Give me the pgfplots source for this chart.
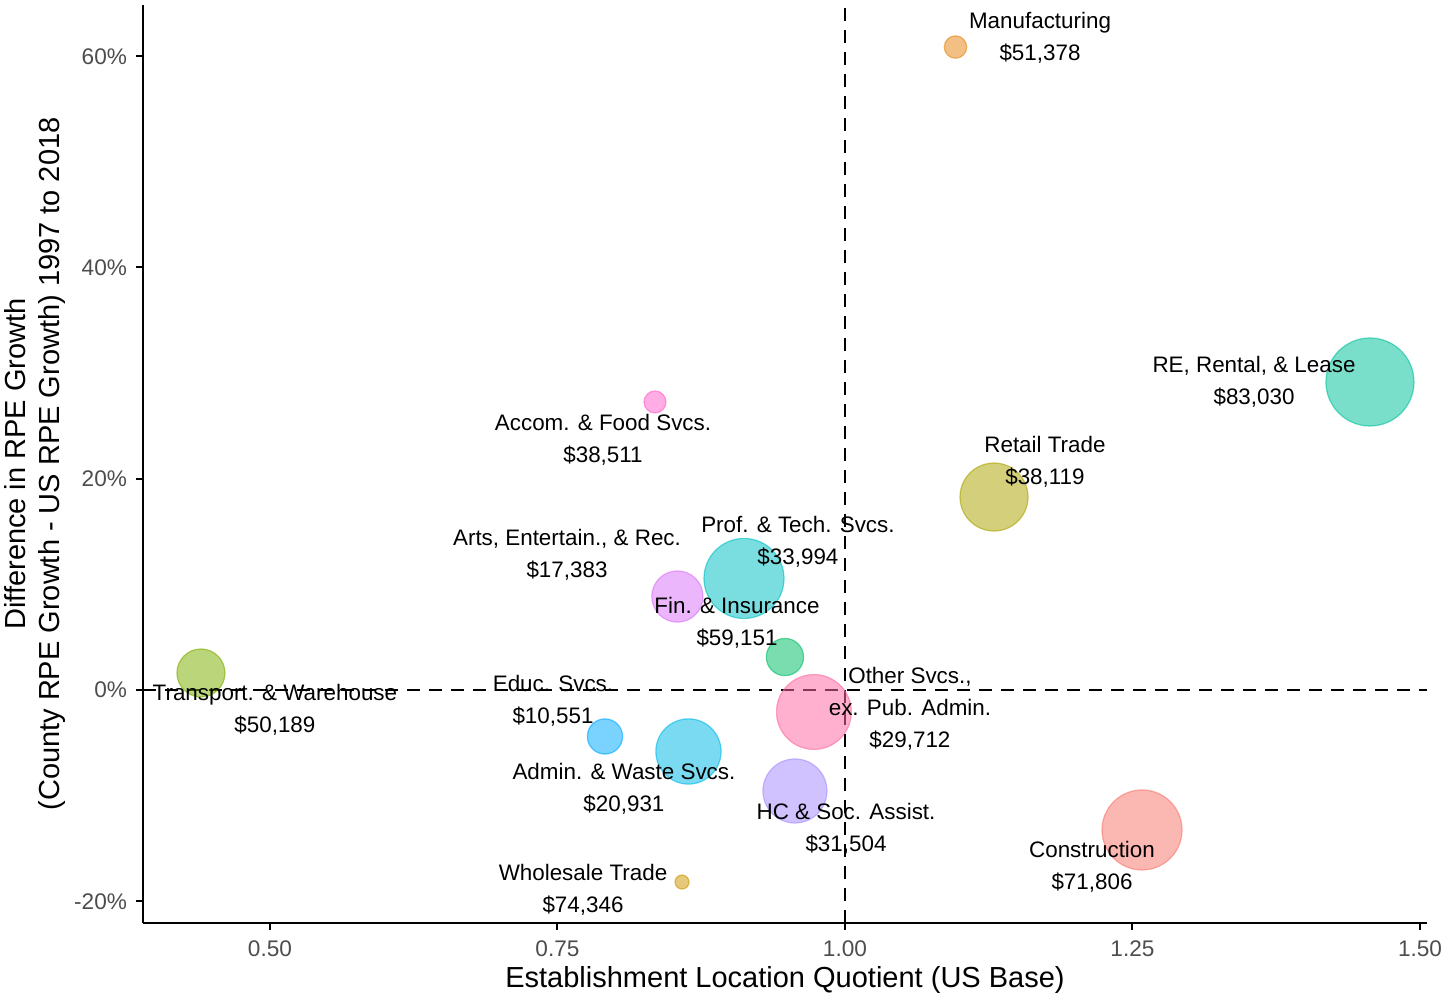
\documentclass[border=0pt]{standalone}
\usepackage{pgfplots}
\pgfplotsset{compat=1.18}
\usepackage{fontspec}
\setmainfont{Liberation Sans}

% ggplot-like hue colours
\definecolor{cCon}{HTML}{F8766D}
\definecolor{cMan}{HTML}{E68613}
\definecolor{cWho}{HTML}{CD9600}
\definecolor{cRet}{HTML}{ABA300}
\definecolor{cTra}{HTML}{7CAE00}
\definecolor{cFin}{HTML}{00BE67}
\definecolor{cRE}{HTML}{00C19A}
\definecolor{cPro}{HTML}{00BFC4}
\definecolor{cAdm}{HTML}{00B8E7}
\definecolor{cEdu}{HTML}{00A9FF}
\definecolor{cHC}{HTML}{A58AFF}
\definecolor{cArt}{HTML}{D973F8}
\definecolor{cAcc}{HTML}{FF61CC}
\definecolor{cOth}{HTML}{FF68A1}
\definecolor{tickgray}{HTML}{4D4D4D}

\begin{document}
\begin{tikzpicture}[
    bub/.style 2 args={only marks, mark=*, mark size=#2, color=#1,
        mark options={fill opacity=0.52, draw opacity=0.6, line width=0.6pt}},
    lab/.style={anchor=center, align=center, font=\fontsize{11.2}{16}\selectfont, inner sep=0pt},
]
\begin{axis}[
    scale only axis,
    width=642pt, height=459pt,
    xmin=0.3896, xmax=1.5061,
    ymin=-22.06, ymax=64.85,
    axis lines=left,
    axis line style={-, line width=1pt, black},
    clip=false,
    xtick={0.5,0.75,1,1.25,1.5},
    xticklabels={0.50,0.75,1.00,1.25,1.50},
    ytick={-20,0,20,40,60},
    yticklabels={-20\%,0\%,20\%,40\%,60\%},
    tick align=outside,
    major tick length=3.5pt,
    tick style={line width=1pt, black},
    ticklabel style={font=\fontsize{11.3}{13}\selectfont, text=tickgray},
    xticklabel style={yshift=-2pt},
    yticklabel style={xshift=-1pt},
    xlabel={Establishment Location Quotient (US Base)},
    ylabel={Difference in RPE Growth\\(County RPE Growth - US RPE Growth) 1997 to 2018},
    every axis x label/.style={at={(axis description cs:0.5,0)}, anchor=center,
        yshift=-28.5pt, font=\fontsize{14.5}{17}\selectfont},
    every axis y label/.style={at={(axis description cs:0,0.5)}, anchor=center,
        rotate=90, align=center, yshift=54pt, font=\fontsize{14.5}{17}\selectfont},
]

% reference lines
\addplot[black, line width=1.1pt, dash pattern=on 6.5pt off 4.5pt] coordinates {(0.3896,0) (1.5061,0)};
\addplot[black, line width=1.1pt, dash pattern=on 6.5pt off 4.5pt] coordinates {(1,-22.06) (1,64.85)};

% bubbles: (location quotient, RPE growth difference), radius
\addplot[bub={cCon}{20pt}]   coordinates {(1.2583,-13.25)};
\addplot[bub={cMan}{5.6pt}]  coordinates {(1.0961,60.87)};
\addplot[bub={cWho}{3.5pt}]  coordinates {(0.8583,-18.18)};
\addplot[bub={cRet}{17pt}]   coordinates {(1.1296,18.27)};
\addplot[bub={cTra}{12pt}]   coordinates {(0.4400,1.61)};
\addplot[bub={cFin}{9.3pt}]  coordinates {(0.9478,3.12)};
\addplot[bub={cRE}{22pt}]    coordinates {(1.4565,29.16)};
\addplot[bub={cPro}{20pt}]   coordinates {(0.9122,10.56)};
\addplot[bub={cAdm}{16.3pt}] coordinates {(0.8639,-5.82)};
\addplot[bub={cEdu}{8.8pt}]  coordinates {(0.7913,-4.40)};
\addplot[bub={cHC}{16pt}]    coordinates {(0.9565,-9.56)};
\addplot[bub={cArt}{12.8pt}] coordinates {(0.8543,8.85)};
\addplot[bub={cAcc}{5.5pt}]  coordinates {(0.8348,27.27)};
\addplot[bub={cOth}{18.7pt}] coordinates {(0.9730,-2.08)};

% label anchors, text is set after the axis so it sits above the bubbles
\coordinate (lMan) at (axis cs:1.1696,61.73);
\coordinate (lRE)  at (axis cs:1.3557,29.16);
\coordinate (lRet) at (axis cs:1.1739,21.63);
\coordinate (lAcc) at (axis cs:0.7896,23.72);
\coordinate (lPro) at (axis cs:0.9591,14.01);
\coordinate (lArt) at (axis cs:0.7583,12.78);
\coordinate (lFin) at (axis cs:0.9061,6.34);
\coordinate (lTra) at (axis cs:0.5043,-1.89);
\coordinate (lEdu) at (axis cs:0.7461,-1.04);
\coordinate (lOth) at (axis cs:1.0565,-1.80);
\coordinate (lAdm) at (axis cs:0.8078,-9.37);
\coordinate (lHC)  at (axis cs:1.0009,-13.11);
\coordinate (lCon) at (axis cs:1.2148,-16.76);
\coordinate (lWho) at (axis cs:0.7722,-18.93);
\end{axis}

\node[lab] at (lMan) {Manufacturing\\\$51,378};
\node[lab] at (lRE)  {RE, Rental, \& Lease\\\$83,030};
\node[lab] at (lRet) {Retail Trade\\\$38,119};
\node[lab] at (lAcc) {Accom. \& Food Svcs.\\\$38,511};
\node[lab] at (lPro) {Prof. \& Tech. Svcs.\\\$33,994};
\node[lab] at (lArt) {Arts, Entertain., \& Rec.\\\$17,383};
\node[lab] at (lFin) {Fin. \& Insurance\\\$59,151};
\node[lab] at (lTra) {Transport. \& Warehouse\\\$50,189};
\node[lab] at (lEdu) {Educ. Svcs.\\\$10,551};
\node[lab] at (lOth) {Other Svcs.,\\ex. Pub. Admin.\\\$29,712};
\node[lab] at (lAdm) {Admin. \& Waste Svcs.\\\$20,931};
\node[lab] at (lHC)  {HC \& Soc. Assist.\\\$31,504};
\node[lab] at (lCon) {Construction\\\$71,806};
\node[lab] at (lWho) {Wholesale Trade\\\$74,346};

\pgfresetboundingbox
\path ([xshift=-71.5pt,yshift=-35.5pt]current axis.south west) rectangle ([xshift=9pt,yshift=2.5pt]current axis.north east);
\end{tikzpicture}
\end{document}
